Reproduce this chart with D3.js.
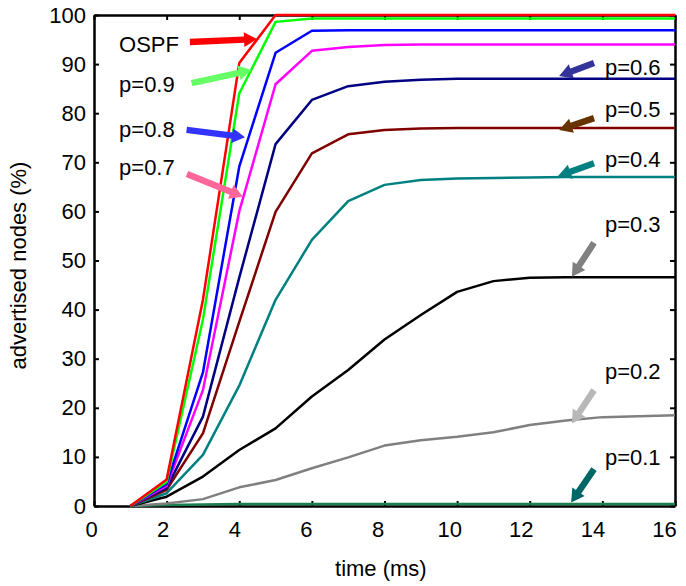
<!DOCTYPE html>
<html>
<head>
<meta charset="utf-8">
<script src="https://cdn.jsdelivr.net/npm/d3@7"></script>
<style>
  body { margin: 0; background: #fff; }
  text { font-family: "Liberation Sans", Arial, sans-serif; fill: #000; }
</style>
</head>
<body>
<div id="chart"></div>
<script>
var svgWidth = 686;
var svgHeight = 586;

var margin = { top: 15, right: 11, bottom: 80, left: 94 };
var width = svgWidth - margin.left - margin.right;
var height = svgHeight - margin.top - margin.bottom;

// time points (ms)
var times = [1, 2, 3, 4, 5, 6, 7, 8, 9, 10, 11, 12, 13, 14, 15, 16];

// advertised nodes (%) per curve
var ospf = [0, 5.4, 42, 90.2, 100, 100, 100, 100, 100, 100, 100, 100, 100, 100, 100, 100];
var p09 = [0, 4.9, 38, 84, 98.6, 99.3, 99.3, 99.3, 99.3, 99.3, 99.3, 99.3, 99.3, 99.3, 99.3, 99.3];
var p08 = [0, 4.5, 27.2, 69.1, 92.3, 96.8, 96.9, 96.9, 96.9, 96.9, 96.9, 96.9, 96.9, 96.9, 96.9, 96.9];
var p07 = [0, 4.1, 23.6, 60, 85.9, 92.7, 93.5, 93.9, 94, 94, 94, 94, 94, 94, 94, 94];
var p06 = [0, 3.7, 18.2, 46.5, 73.7, 82.7, 85.5, 86.4, 86.8, 87, 87, 87, 87, 87, 87, 87];
var p05 = [0, 3.3, 14.8, 37.5, 59.9, 71.8, 75.7, 76.6, 76.9, 77, 77, 77, 77, 77, 77, 77];
var p04 = [0, 2.6, 10.4, 24.5, 42, 54.2, 62.1, 65.4, 66.4, 66.7, 66.8, 66.9, 67, 67, 67, 67];
var p03 = [0, 1.9, 6.0, 11.4, 15.8, 22.3, 27.7, 33.9, 38.9, 43.6, 45.8, 46.5, 46.6, 46.6, 46.6, 46.6];
var p02 = [0, 0.5, 1.4, 3.8, 5.3, 7.7, 9.9, 12.3, 13.4, 14.1, 15.0, 16.5, 17.4, 18.1, 18.3, 18.5];
var p01 = [0, 0.2, 0.3, 0.4, 0.4, 0.4, 0.4, 0.4, 0.4, 0.4, 0.4, 0.4, 0.4, 0.4, 0.4, 0.4];

var seriesNames = ["p=0.1", "p=0.2", "p=0.3", "p=0.4", "p=0.5", "p=0.6", "p=0.7", "p=0.8", "p=0.9", "OSPF"];
var seriesValues = [p01, p02, p03, p04, p05, p06, p07, p08, p09, ospf];
var seriesColors = ["#1b8050", "#808080", "#000000", "#008080", "#800000", "#000080", "#ff00ff", "#0000ff", "#00ff00", "#ff0000"];

var xTicks = [0, 2, 4, 6, 8, 10, 12, 14, 16];
var yTicks = [0, 10, 20, 30, 40, 50, 60, 70, 80, 90, 100];

// annotation labels: text anchor point and arrow start/end, in data units
var labelText = ["OSPF", "p=0.9", "p=0.8", "p=0.7", "p=0.6", "p=0.5", "p=0.4", "p=0.3", "p=0.2", "p=0.1"];
var labelAt = [[0.69, 92.5], [0.69, 84.3], [0.69, 75.2], [0.69, 67.4], [14.07, 87.8], [14.07, 79.2], [14.07, 69.1], [14.07, 55.9], [14.07, 25.8], [14.07, 8.4]];
var arrowFrom = [[2.64, 94.5], [2.69, 86.1], [2.55, 76.6], [2.56, 67.6], [13.77, 90.2], [13.77, 79.0], [13.77, 69.8], [13.77, 53.6], [13.77, 23.6], [13.77, 7.5]];
var arrowTo = [[4.49, 95.1], [4.34, 88.8], [4.16, 75.1], [4.10, 63.0], [12.81, 87.6], [12.81, 76.6], [12.78, 67.2], [13.16, 46.7], [13.16, 16.8], [13.14, 0.7]];
var arrowColors = ["#ff0000", "#66ff66", "#3333ff", "#ff6699", "#333399", "#663300", "#008080", "#808080", "#b8b8b8", "#006666"];

var svg = d3.select("#chart")
  .append("svg")
  .attr("width", svgWidth)
  .attr("height", svgHeight);

var chartGroup = svg.append("g")
  .attr("transform", `translate(${margin.left}, ${margin.top})`);

var xScale = d3.scaleLinear().domain([0, 16]).range([0, width]);
var yScale = d3.scaleLinear().domain([0, 100]).range([height, 0]);

// frame with inward ticks
var axisColor = "#000";
function tickAxis(axis) {
  return axis.tickSizeInner(-5).tickSizeOuter(0).tickPadding(9);
}

var bottomAxis = chartGroup.append("g")
  .attr("transform", `translate(0, ${height})`)
  .call(tickAxis(d3.axisBottom(xScale).tickValues(xTicks)));
var leftAxis = chartGroup.append("g")
  .call(tickAxis(d3.axisLeft(yScale).tickValues(yTicks)));
var topAxis = chartGroup.append("g")
  .call(tickAxis(d3.axisTop(xScale).tickValues(xTicks)).tickFormat(""));
var rightAxis = chartGroup.append("g")
  .attr("transform", `translate(${width}, 0)`)
  .call(tickAxis(d3.axisRight(yScale).tickValues(yTicks)).tickFormat(""));

[bottomAxis, leftAxis, topAxis, rightAxis].forEach(function(g) {
  g.select(".domain").attr("stroke", axisColor).attr("stroke-width", 2.5);
  g.selectAll(".tick line").attr("stroke", axisColor).attr("stroke-width", 2);
  g.selectAll(".tick text")
    .style("font-family", "'Liberation Sans', Arial, sans-serif")
    .style("font-size", "22px")
    .attr("fill", "#000");
});
// the original labels drift slightly left of their ticks
bottomAxis.selectAll(".tick text")
  .attr("dy", "1.0em")
  .attr("x", d => -3 - 8 * d / 16);
leftAxis.selectAll(".tick text").attr("x", -8);

// curves
var line = d3.line()
  .x((d, i) => xScale(times[i]))
  .y(d => yScale(d));

chartGroup.selectAll(".curve")
  .data(seriesValues)
  .enter()
  .append("path")
  .attr("class", "curve")
  .attr("d", d => line(d))
  .attr("fill", "none")
  .attr("stroke", (d, i) => seriesColors[i])
  .attr("stroke-width", 2.5)
  .attr("stroke-linejoin", "round");

// arrows
function arrowPath(i) {
  var x1 = xScale(arrowFrom[i][0]), y1 = yScale(arrowFrom[i][1]);
  var x2 = xScale(arrowTo[i][0]), y2 = yScale(arrowTo[i][1]);
  var dx = x2 - x1, dy = y2 - y1;
  var len = Math.sqrt(dx * dx + dy * dy);
  var ux = dx / len, uy = dy / len, nx = -uy, ny = ux;
  var headLen = 13, headW = 7.5, shaftW = 3.2;
  var bx = x2 - ux * headLen, by = y2 - uy * headLen;
  var pts = [
    [x1 + nx * shaftW, y1 + ny * shaftW],
    [bx + nx * shaftW, by + ny * shaftW],
    [bx + nx * headW, by + ny * headW],
    [x2, y2],
    [bx - nx * headW, by - ny * headW],
    [bx - nx * shaftW, by - ny * shaftW],
    [x1 - nx * shaftW, y1 - ny * shaftW]
  ];
  return "M" + pts.map(p => p.join(",")).join("L") + "Z";
}

chartGroup.selectAll(".arrow")
  .data(labelText)
  .enter()
  .append("path")
  .attr("class", "arrow")
  .attr("d", (d, i) => arrowPath(i))
  .attr("fill", (d, i) => arrowColors[i]);

chartGroup.selectAll(".label")
  .data(labelText)
  .enter()
  .append("text")
  .attr("class", "label")
  .attr("x", (d, i) => xScale(labelAt[i][0]))
  .attr("y", (d, i) => yScale(labelAt[i][1]))
  .style("font-size", "22px")
  .text(d => d);

// axis titles
chartGroup.append("text")
  .attr("transform", "rotate(-90)")
  .attr("x", -(height / 2) - 5)
  .attr("y", -68)
  .attr("text-anchor", "middle")
  .style("font-size", "22px")
  .text("advertised nodes (%)");

chartGroup.append("text")
  .attr("x", xScale(7.9))
  .attr("y", height + 70)
  .attr("text-anchor", "middle")
  .style("font-size", "22px")
  .text("time (ms)");
</script>
</body>
</html>
